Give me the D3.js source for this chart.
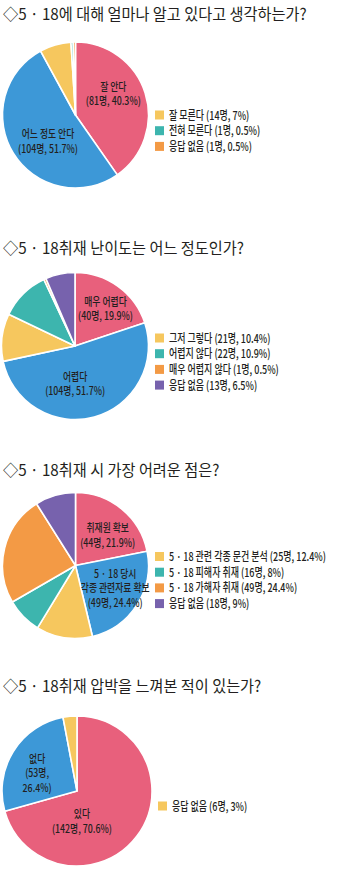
<!DOCTYPE html>
<html>
<head>
<meta charset="utf-8">
<script src="https://cdn.jsdelivr.net/npm/d3@7"></script>
<style>
  body { margin: 0; background: #ffffff; }
  svg { display: block; }
  text { font-family: "Noto Sans CJK KR", "Noto Sans", sans-serif; fill: #231f20; }
</style>
</head>
<body>
<svg id="chart" width="339" height="871"></svg>
<script>
// ---- Survey data: one block of arrays per question ----
const q1Title = "◇5 · 18에 대해 얼마나 알고 있다고 생각하는가?";
const q1Categories = ["잘 안다", "어느 정도 안다", "잘 모른다", "전혀 모른다", "응답 없음"];
const q1Counts = [81, 104, 14, 1, 1];
const q1Percents = ["40.3", "51.7", "7", "0.5", "0.5"];
const q1Colors = ["#e8607c", "#3d98d7", "#f6c75e", "#3db5ae", "#f39a45"];
const q1Inside = ["잘 안다", "어느 정도 안다"];

const q2Title = "◇5 · 18취재 난이도는 어느 정도인가?";
const q2Categories = ["매우 어렵다", "어렵다", "그저 그렇다", "어렵지 않다", "매우 어렵지 않다", "응답 없음"];
const q2Counts = [40, 104, 21, 22, 1, 13];
const q2Percents = ["19.9", "51.7", "10.4", "10.9", "0.5", "6.5"];
const q2Colors = ["#e8607c", "#3d98d7", "#f6c75e", "#3db5ae", "#f39a45", "#7762ad"];
const q2Inside = ["매우 어렵다", "어렵다"];

const q3Title = "◇5 · 18취재 시 가장 어려운 점은?";
const q3Categories = ["취재원 확보", "5 · 18 당시 각종 관련자료 확보", "5 · 18 관련 각종 문건 분석", "5 · 18 피해자 취재", "5 · 18 가해자 취재", "응답 없음"];
const q3Counts = [44, 49, 25, 16, 49, 18];
const q3Percents = ["21.9", "24.4", "12.4", "8", "24.4", "9"];
const q3Colors = ["#e8607c", "#3d98d7", "#f6c75e", "#3db5ae", "#f39a45", "#7762ad"];
const q3Inside = ["취재원 확보", "5 · 18 당시 각종 관련자료 확보"];

const q4Title = "◇5 · 18취재 압박을 느껴본 적이 있는가?";
const q4Categories = ["있다", "없다", "응답 없음"];
const q4Counts = [142, 53, 6];
const q4Percents = ["70.6", "26.4", "3"];
const q4Colors = ["#e8607c", "#3d98d7", "#f6c75e"];
const q4Inside = ["있다", "없다"];

// Line breaks for the labels printed inside the slices
const insideLines = {
  "잘 안다": c => ["잘 안다", c],
  "어느 정도 안다": c => ["어느 정도 안다", c],
  "매우 어렵다": c => ["매우 어렵다", c],
  "어렵다": c => ["어렵다", c],
  "취재원 확보": c => ["취재원 확보", c],
  "5 · 18 당시 각종 관련자료 확보": c => ["5 · 18 당시", "각종 관련자료 확보", c],
  "있다": c => ["있다", c],
  "없다": c => { const p = c.split(" "); return ["없다", p[0], p[1]]; }
};

// ---- Layout for each panel ----
const panels = [
  { title: q1Title, cats: q1Categories, counts: q1Counts, pcts: q1Percents, colors: q1Colors, inside: q1Inside,
    titleY: 20, cx: 75.5, cy: 115, r: 73, legendX: 155, legendY: 115,
    nudge: { "잘 안다": [3, -10], "어느 정도 안다": [3.5, 7.5] } },
  { title: q2Title, cats: q2Categories, counts: q2Counts, pcts: q2Percents, colors: q2Colors, inside: q2Inside,
    titleY: 254, cx: 75, cy: 346, r: 73.5, legendX: 155, legendY: 338,
    nudge: { "매우 어렵다": [9, -7], "어렵다": [-9.5, 2.5] } },
  { title: q3Title, cats: q3Categories, counts: q3Counts, pcts: q3Percents, colors: q3Colors, inside: q3Inside,
    titleY: 476, cx: 75.5, cy: 565.5, r: 73, legendX: 155, legendY: 556.5,
    nudge: { "취재원 확보": [9, -2], "5 · 18 당시 각종 관련자료 확보": [9, 3] } },
  { title: q4Title, cats: q4Categories, counts: q4Counts, pcts: q4Percents, colors: q4Colors, inside: q4Inside,
    titleY: 692, cx: 77, cy: 791, r: 75, legendX: 158, legendY: 806,
    nudge: { "있다": [-25, 8], "없다": [-8, 2] } }
];

const svg = d3.select("#chart");

// Text set in a horizontally condensed face (narrow print typeface)
function narrowText(parent, x, y, str, size, factor, anchor) {
  return parent.append("text")
    .attr("transform", `translate(${x},${y}) scale(${factor},1)`)
    .attr("text-anchor", anchor || "start")
    .attr("font-size", size)
    .text(str);
}

// Condense a centred text run to a fraction of its natural advance
function squeeze(sel, factor) {
  sel.each(function () {
    const w = this.getComputedTextLength();
    this.setAttribute("textLength", (w * factor).toFixed(2));
    this.setAttribute("lengthAdjust", "spacingAndGlyphs");
  });
}

const legendRow = 15.7;
const lineH = 14.5;
const labelSize = 11, labelFactor = 0.8;
const legendSize = 12, legendFactor = 0.75;

panels.forEach(p => {
  const data = p.cats.map((c, i) => ({ cat: c, count: p.counts[i], pct: p.pcts[i], color: p.colors[i] }));
  const g = svg.append("g");

  // title
  narrowText(g, 3, p.titleY, p.title, 16, 0.95);

  // pie
  const pie = d3.pie().sort(null).value(d => d.count);
  const arc = d3.arc().innerRadius(0).outerRadius(p.r);
  const arcs = pie(data);
  const pg = g.append("g").attr("transform", `translate(${p.cx},${p.cy})`);
  pg.selectAll("path").data(arcs).join("path")
    .attr("d", arc)
    .attr("fill", d => d.data.color)
    .attr("stroke", "#ffffff")
    .attr("stroke-width", 1.6)
    .attr("stroke-linejoin", "round");

  // labels inside the large slices
  const labelArc = d3.arc().innerRadius(p.r * 0.5).outerRadius(p.r * 0.5);
  arcs.filter(a => p.inside.includes(a.data.cat)).forEach(a => {
    const [x0, y0] = labelArc.centroid(a);
    const nd = p.nudge[a.data.cat] || [0, 0];
    const cx = x0 + nd[0], cy = y0 + nd[1];
    const lines = insideLines[a.data.cat](`(${a.data.count}명, ${a.data.pct}%)`);
    const top = cy - (lines.length - 1) * lineH / 2 + 4;
    lines.forEach((ln, k) => {
      pg.append("text")
        .attr("x", cx).attr("y", top + k * lineH)
        .attr("text-anchor", "middle")
        .attr("font-size", labelSize)
        .attr("font-weight", 500)
        .text(ln)
        .call(squeeze, labelFactor);
    });
  });

  // legend for the remaining slices
  const rest = data.filter(d => !p.inside.includes(d.cat));
  const lg = g.append("g").attr("transform", `translate(${p.legendX},${p.legendY})`);
  rest.forEach((d, i) => {
    const y = i * legendRow;
    lg.append("rect")
      .attr("x", 0).attr("y", y - 4.5)
      .attr("width", 9).attr("height", 9)
      .attr("fill", d.color);
    narrowText(lg, 14, y + 4.5, `${d.cat} (${d.count}명, ${d.pct}%)`, legendSize, legendFactor)
      .attr("font-weight", 500);
  });
});
</script>
</body>
</html>
